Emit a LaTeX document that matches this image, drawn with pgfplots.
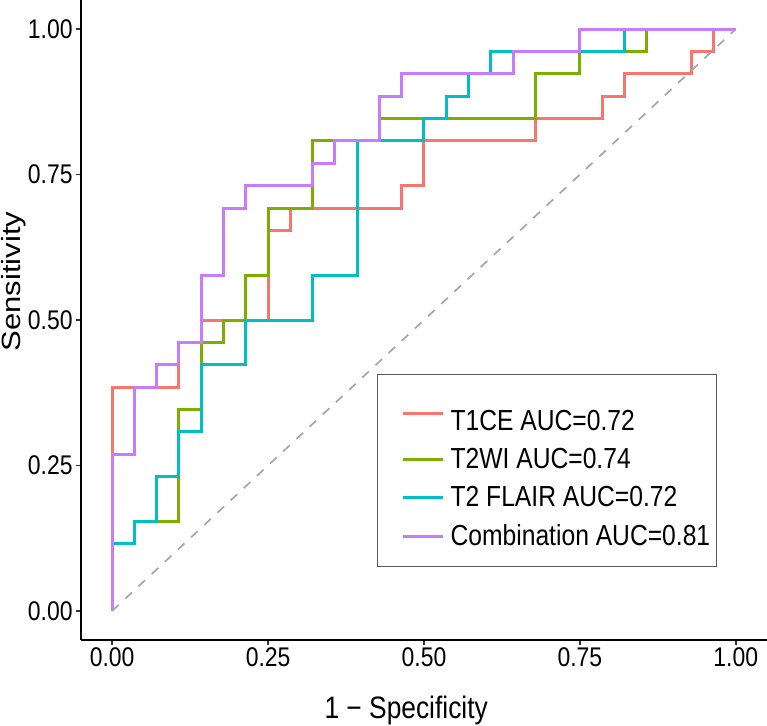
\documentclass[border=0pt]{standalone}
\usepackage{graphicx}
\usepackage{pgfplots}
\pgfplotsset{compat=1.18}
\usepackage{fontspec}
\setmainfont{Liberation Sans}[FakeStretch=0.85]
\newfontfamily\ylabfont{Liberation Sans}

\definecolor{cT1}{HTML}{F8766D}
\definecolor{cT2}{HTML}{7CAE00}
\definecolor{cFL}{HTML}{00BFC4}
\definecolor{cCB}{HTML}{C77CFF}

\begin{document}
\begin{tikzpicture}
\begin{axis}[
  scale only axis, width=343pt, height=320pt,
  xmin=-0.05, xmax=1.05, ymin=-0.05, ymax=1.05,
  axis x line*=bottom, axis y line*=left,
  axis line style={black, line width=1pt, -},
  xtick={0,0.25,0.5,0.75,1}, ytick={0,0.25,0.5,0.75,1},
  xticklabels={0.00,0.25,0.50,0.75,1.00},
  yticklabels={0.00,0.25,0.50,0.75,1.00},
  tick align=outside, major tick length=2.5pt,
  tick style={line width=0.8pt, black!80},
  ticklabel style={font=\fontsize{13.5}{15}\selectfont, black},
  xticklabel style={inner sep=1pt},
  yticklabel style={inner sep=1.5pt},
  xlabel={1 − Specificity},
  ylabel={\scalebox{1}[0.85]{\ylabfont Sensitivity}},
  xlabel style={font=\fontsize{15.5}{18}\selectfont, at={(axis description cs:0.474,0)}, anchor=center, yshift=-35pt},
  ylabel style={font=\fontsize{15.5}{18}\selectfont, at={(axis description cs:-0.0977,0.56)}, anchor=center},
  legend cell align=left,
  legend style={at={(rel axis cs:0.4315,0.4156)}, anchor=north west,
    draw=black!65, line width=0.6pt, fill=white,
    font=\fontsize{14.5}{16}\selectfont,
    inner xsep=1pt, inner ysep=7pt, row sep=3.35pt,
    /tikz/every odd column/.append style={column sep=1pt}},
  legend image code/.code={\path (0pt,0pt); \draw[#1, line width=1.5pt] (11pt,0pt) -- (31pt,0pt);},
  every axis plot/.append style={line width=1.5pt},
]
\addplot[cT1] coordinates {(0,0) (0,0.3846) (0.1071,0.3846) (0.1071,0.4615) (0.1429,0.4615) (0.1429,0.5) (0.25,0.5) (0.25,0.6538) (0.2857,0.6538) (0.2857,0.6923) (0.4643,0.6923) (0.4643,0.7308) (0.5,0.7308) (0.5,0.8077) (0.6786,0.8077) (0.6786,0.8462) (0.7857,0.8462) (0.7857,0.8846) (0.8214,0.8846) (0.8214,0.9231) (0.9286,0.9231) (0.9286,0.9615) (0.9643,0.9615) (0.9643,1) (1,1)};
\addlegendentry{\rule{0pt}{19pt}T1CE AUC=0.72}
\addplot[cT2] coordinates {(0,0) (0,0.1154) (0.0357,0.1154) (0.0357,0.1538) (0.1071,0.1538) (0.1071,0.3462) (0.1429,0.3462) (0.1429,0.4615) (0.1786,0.4615) (0.1786,0.5) (0.2143,0.5) (0.2143,0.5769) (0.25,0.5769) (0.25,0.6923) (0.3214,0.6923) (0.3214,0.8077) (0.4286,0.8077) (0.4286,0.8462) (0.6786,0.8462) (0.6786,0.9231) (0.75,0.9231) (0.75,0.9615) (0.8571,0.9615) (0.8571,1) (1,1)};
\addlegendentry{T2WI AUC=0.74}
\addplot[cFL] coordinates {(0,0) (0,0.1154) (0.0357,0.1154) (0.0357,0.1538) (0.0714,0.1538) (0.0714,0.2308) (0.1071,0.2308) (0.1071,0.3077) (0.1429,0.3077) (0.1429,0.4231) (0.2143,0.4231) (0.2143,0.5) (0.3214,0.5) (0.3214,0.5769) (0.3929,0.5769) (0.3929,0.8077) (0.5,0.8077) (0.5,0.8462) (0.5357,0.8462) (0.5357,0.8846) (0.5714,0.8846) (0.5714,0.9231) (0.6071,0.9231) (0.6071,0.9615) (0.8214,0.9615) (0.8214,1) (1,1)};
\addlegendentry{T2 FLAIR AUC=0.72}
\addplot[cCB] coordinates {(0,0) (0,0.2692) (0.0357,0.2692) (0.0357,0.3846) (0.0714,0.3846) (0.0714,0.4231) (0.1071,0.4231) (0.1071,0.4615) (0.1429,0.4615) (0.1429,0.5769) (0.1786,0.5769) (0.1786,0.6923) (0.2143,0.6923) (0.2143,0.7308) (0.3214,0.7308) (0.3214,0.7692) (0.3571,0.7692) (0.3571,0.8077) (0.4286,0.8077) (0.4286,0.8846) (0.4643,0.8846) (0.4643,0.9231) (0.6429,0.9231) (0.6429,0.9615) (0.75,0.9615) (0.75,1) (1,1)};
\addlegendentry{Combination AUC=0.81}
\addplot[color=black!35, line width=0.85pt, dash pattern=on 4.5pt off 4.5pt, forget plot] coordinates {(0,0) (1,1)};
\end{axis}
\pgfresetboundingbox
\useasboundingbox (-40.5pt,-42.5pt) rectangle (343pt,320pt);
\end{tikzpicture}
\end{document}
